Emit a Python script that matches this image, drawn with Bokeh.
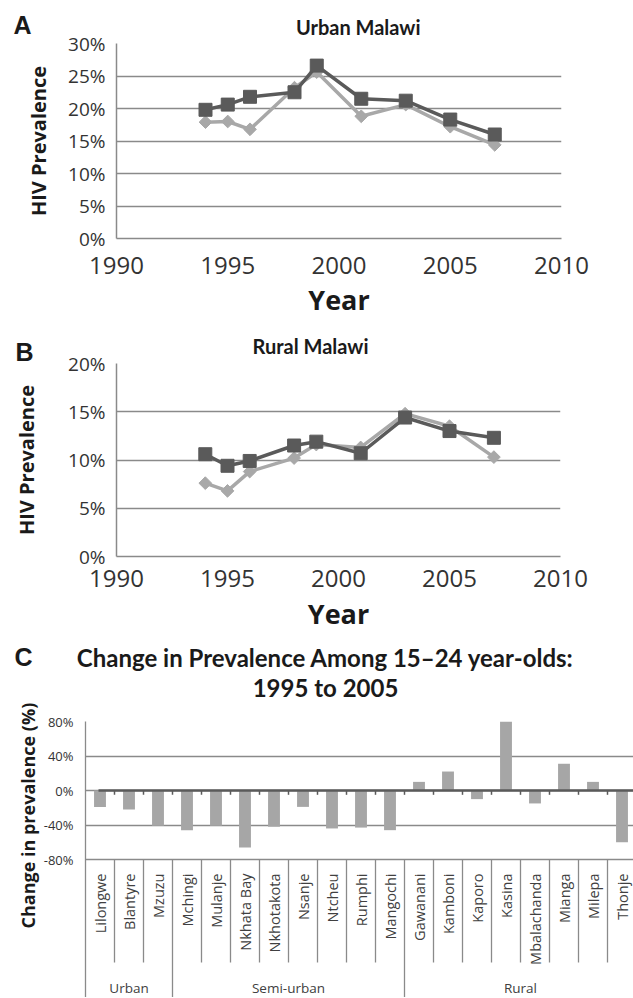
import math
from bokeh.plotting import figure
from bokeh.layouts import column
from bokeh.models import Range1d, FixedTicker, PrintfTickFormatter, Title
from bokeh.embed import file_html
from bokeh.resources import INLINE
from bokeh.core.properties import value

# ---------------- data ----------------
years = [1994, 1995, 1996, 1998, 1999, 2001, 2003, 2005, 2007]
urban_dark = [19.8, 20.6, 21.8, 22.5, 26.6, 21.5, 21.2, 18.3, 16.0]
urban_light = [17.9, 18.0, 16.8, 23.2, 25.6, 18.8, 20.6, 17.2, 14.4]
rural_dark = [10.6, 9.4, 9.9, 11.5, 11.9, 10.7, 14.4, 13.0, 12.3]
rural_light = [7.6, 6.8, 8.8, 10.2, 11.6, 11.3, 14.8, 13.5, 10.3]

year_ticks = [1990, 1995, 2000, 2005, 2010]
urban_ticks = [0, 5, 10, 15, 20, 25, 30]
rural_ticks = [0, 5, 10, 15, 20]

districts = ["Lilongwe", "Blantyre", "Mzuzu",
             "Mchingi", "Mulanje", "Nkhata Bay", "Nkhotakota", "Nsanje", "Ntcheu", "Rumphi", "Mangochi",
             "Gawanani", "Kamboni", "Kaporo", "Kasina", "Mbalachanda", "Mianga", "Milepa", "Thonje"]
groups = ["Urban"] * 3 + ["Semi-urban"] * 8 + ["Rural"] * 8
change = [-19, -22, -41, -46, -41, -66, -42, -19, -44, -43, -46, 10, 22, -10, 80, -15, 31, 10, -60]
change_ticks = [-80, -40, 0, 40, 80]

title_a = "Urban Malawi"
title_b = "Rural Malawi"
title_c = ["Change in Prevalence Among 15\u201324 year-olds:", "1995 to 2005"]
ylabel_c = "Change in prevalence (%)"

# ---------------- styles ----------------
DARK = "#5a5a5a"
LIGHT = "#a8a8a8"
GRID = "#8a8a8a"
BAR = "#a6a6a6"
TXT = "#1a1a1a"
TICK = "#333333"
W = 633
SHIFT = 0.34   # rendered text sits this many ems below its anchor


def header(top, h, overlap=0):
    """A figure with no axes whose data coordinates are page pixels."""
    p = figure(width=W, height=h, x_range=Range1d(0, W), y_range=Range1d(top + h, top),
               x_axis_location=None, y_axis_location=None, output_backend="svg",
               toolbar_location=None, min_border=0, frame_align=False)
    p.title.visible = False
    p.outline_line_color = None
    p.grid.visible = False
    p.margin = (0, 0, -overlap, 0)
    return p


def add_letter(p, x, y, letter):
    size = 25
    p.text(x=[x], y=[y - SHIFT * size], text=[letter], text_align="left",
           text_baseline="alphabetic", text_font=value("Liberation Sans"),
           text_font_style="bold", text_font_size=f"{size}px", text_color=TXT)


def add_title(p, xs, ys, texts, align, size):
    p.text(x=xs, y=[y - SHIFT * size for y in ys], text=texts, text_align=align,
           text_baseline="alphabetic", text_font=value("Lato"), text_font_style="bold",
           text_font_size=f"{size}px", text_color=TXT)


def line_panel(dark, light, yticks, fig_top, fig_h, frame, xlab_standoff, xtitle_standoff,
               ylab_standoff):
    fl, fr, ft, fb = frame
    p = figure(width=W, height=fig_h, x_range=Range1d(year_ticks[0], year_ticks[-1]),
               y_range=Range1d(yticks[0], yticks[-1]), output_backend="svg",
               toolbar_location=None, frame_align=False,
               min_border_left=fl, min_border_right=W - fr,
               min_border_top=ft - fig_top, min_border_bottom=fig_top + fig_h - fb)
    p.title.visible = False
    p.border_fill_color = None
    p.outline_line_color = None
    p.xgrid.visible = False
    p.ygrid.ticker = FixedTicker(ticks=yticks)
    p.ygrid.grid_line_color = GRID
    p.ygrid.grid_line_width = 1.5
    p.yaxis.ticker = FixedTicker(ticks=yticks)
    p.yaxis.formatter = PrintfTickFormatter(format="%d%%")
    p.xaxis.ticker = FixedTicker(ticks=year_ticks)
    p.xaxis.formatter = PrintfTickFormatter(format="%d")
    for ax in (p.xaxis[0], p.yaxis[0]):
        ax.major_tick_line_color = None
        ax.minor_tick_line_color = None
        ax.major_tick_out = 0
        ax.major_tick_in = 0
        ax.axis_line_color = GRID
        ax.axis_line_width = 1.5
        ax.major_label_text_color = TICK
        ax.major_label_text_font = "Open Sans"
        ax.axis_label_text_font = "Open Sans"
        ax.axis_label_text_font_style = "bold"
        ax.axis_label_text_color = TXT
    p.xaxis.major_label_text_font_size = "24px"
    p.xaxis.major_label_standoff = xlab_standoff
    p.xaxis.axis_label = "Year"
    p.xaxis.axis_label_text_font_size = "27px"
    p.xaxis.axis_label_standoff = xtitle_standoff
    p.yaxis.major_label_text_font_size = "19px"
    p.yaxis.major_label_standoff = 11
    p.yaxis.axis_label = "HIV Prevalence"
    p.yaxis.axis_label_text_font_size = "20px"
    p.yaxis.axis_label_standoff = ylab_standoff

    p.line(years, light, line_color=LIGHT, line_width=3.5)
    p.scatter(years, light, marker="square", angle=math.pi / 4, size=9,
              fill_color=LIGHT, line_color=LIGHT)
    p.line(years, dark, line_color=DARK, line_width=3.5)
    p.scatter(years, dark, marker="square", size=13, fill_color=DARK, line_color=DARK)
    return p


# ---------------- panel A ----------------
ha = header(0, 40, overlap=11)
add_letter(ha, 13, 33, "A")
add_title(ha, [420], [33], [title_a], "right", 20)
pa = line_panel(urban_dark, urban_light, urban_ticks, 29, 293, (116, 561, 43, 238), 18, 4, 13)

# ---------------- panel B ----------------
hb = header(322, 44, overlap=17)
add_letter(hb, 15, 360, "B")
add_title(hb, [310], [352], [title_b], "center", 20)
pb = line_panel(rural_dark, rural_light, rural_ticks, 349, 291, (116, 560, 363, 556), 13, 5, 25)

# ---------------- panel C ----------------
hc = header(640, 62)
add_letter(hc, 14, 665, "C")
add_title(hc, [325, 325], [665, 695], title_c, "center", 24)

CAT_PX = 29
fl, fr, ft, fb = 85, W, 721, 997
c_top = 702
x_end = (fr - fl) / CAT_PX
px_per_unit = (859 - 721) / 160.0
y_bottom = -80 - (fb - 859) / px_per_unit
pc = figure(width=W, height=fb - c_top, x_range=Range1d(0, x_end), y_range=Range1d(y_bottom, 80),
            x_axis_location=None, output_backend="svg", toolbar_location=None, frame_align=False,
            min_border_left=fl, min_border_right=0, min_border_top=ft - c_top, min_border_bottom=0)
pc.title.visible = False
pc.outline_line_color = None
pc.xgrid.visible = False
pc.ygrid.ticker = FixedTicker(ticks=change_ticks)
pc.ygrid.grid_line_color = GRID
pc.ygrid.grid_line_width = 1.3
ay = pc.yaxis[0]
ay.ticker = FixedTicker(ticks=change_ticks)
ay.formatter = PrintfTickFormatter(format="%d%%")
ay.major_tick_line_color = None
ay.minor_tick_line_color = None
ay.major_tick_out = 0
ay.major_tick_in = 0
ay.axis_line_color = GRID
ay.axis_line_width = 1.3
ay.major_label_text_font = "Open Sans"
ay.major_label_text_font_size = "13px"
ay.major_label_text_color = TICK
ay.major_label_standoff = 12
pc.add_layout(Title(text=ylabel_c, align="left", offset=fb - 928, standoff=2,
                    vertical_align="bottom", text_font="Open Sans", text_font_style="bold",
                    text_font_size="18px", text_color=TXT), "left")


def fyc(py):
    return y_bottom + (fb - py) * 160.0 / (859 - 721)


def fxc(px):
    return (px - fl) / CAT_PX


centers = [i + 0.5 for i in range(len(districts))]
pc.vbar(x=centers, top=change, bottom=0, width=0.41, fill_color=BAR, line_color=None)

bounds = list(range(1, len(districts)))
group_bounds = [i for i in bounds if groups[i] != groups[i - 1]]
inner_bounds = [b for b in bounds if b not in group_bounds]
pc.segment(x0=inner_bounds, y0=-80, x1=inner_bounds, y1=fyc(962), line_color=GRID, line_width=1.3)
pc.segment(x0=group_bounds, y0=-80, x1=group_bounds, y1=y_bottom, line_color=GRID, line_width=1.3)
pc.segment(x0=fxc(98), y0=0, x1=x_end, y1=0, line_color=DARK, line_width=2.5)
pc.segment(x0=bounds, y0=0, x1=bounds, y1=-5, line_color=DARK, line_width=1.5)

pc.text(x=centers, y=fyc(873), text=districts, angle=math.pi / 2, text_align="right",
        text_baseline="middle", text_font=value("Open Sans"), text_font_size="14.5px",
        text_color="#404040")
gnames, gx = [], []
for g in dict.fromkeys(groups):
    idx = [c for c, gg in zip(centers, groups) if gg == g]
    gnames.append(g)
    gx.append(sum(idx) / len(idx))
pc.text(x=gx, y=fyc(987), text=gnames, text_align="center", text_baseline="middle",
        text_font=value("Open Sans"), text_font_size="13.5px", text_color="#404040")

layout = column(ha, pa, hb, pb, hc, pc, spacing=0)
open("out.html", "w").write(file_html(layout, INLINE))
